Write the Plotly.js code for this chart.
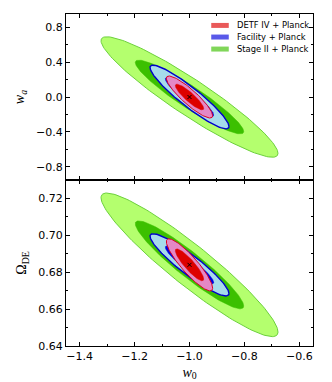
<!DOCTYPE html>
<html>
<head>
<meta charset="utf-8">
<script src="https://cdn.plot.ly/plotly-3.0.1.min.js"></script>
<style>
  html, body { margin: 0; padding: 0; background: #fff; }
  #chart { width: 332px; height: 382px; }
</style>
</head>
<body>
<div id="chart"></div>
<script>
// Fisher forecasts around the fiducial cosmology (1-sigma marginals + correlations)
const experiments = ['Stage II + Planck', 'Facility + Planck', 'DETF IV + Planck'];
const fiducialW0 = -1.0;
const fiducialWa = 0.0;
const fiducialOde = 0.684;
const sigmaW0 = [0.130, 0.058, 0.034];
const sigmaWa = [0.278, 0.147, 0.097];
const sigmaOde = [0.0157, 0.0068, 0.0057];
const rhoW0Wa = [-0.935, -0.925, -0.89];
const rhoW0Ode = [-0.935, -0.92, -0.89];
// sqrt(delta chi^2) for 68% and 95% with two parameters
const levels = [1.52, 2.48];

const outerFill = ['#b4ff6e', '#a6dbeb', '#e488c6'];
const innerFill = ['#3cc000', '#0000dd', '#dd0000'];
const edgeColor = ['#6cd03c', '#0000cc', '#dd0022'];
const legendColor = ['rgba(60,192,0,0.65)', 'rgba(0,0,221,0.65)', 'rgba(221,0,0,0.65)'];

function ellipse(cx, cy, sx, sy, rho, k) {
  const xs = [];
  const ys = [];
  const n = 160;
  const r = Math.sqrt(1 - rho * rho);
  for (let i = 0; i <= n; i++) {
    const t = (2 * Math.PI * i) / n;
    xs.push(cx + k * sx * Math.cos(t));
    ys.push(cy + k * sy * (rho * Math.cos(t) + r * Math.sin(t)));
  }
  return { xs, ys };
}

const traces = [];

function addPanel(cy, sigY, rho, xa, ya) {
  experiments.forEach((name, i) => {
    const outer = ellipse(fiducialW0, cy, sigmaW0[i], sigY[i], rho[i], levels[1]);
    const inner = ellipse(fiducialW0, cy, sigmaW0[i], sigY[i], rho[i], levels[0]);
    traces.push({
      type: 'scatter', mode: 'lines', x: outer.xs, y: outer.ys,
      xaxis: xa, yaxis: ya, fill: 'toself', fillcolor: outerFill[i],
      line: { color: edgeColor[i], width: i === 1 ? 1.4 : 1 },
      hoverinfo: 'skip', showlegend: false
    });
    traces.push({
      type: 'scatter', mode: 'lines', x: inner.xs, y: inner.ys,
      xaxis: xa, yaxis: ya, fill: 'toself', fillcolor: innerFill[i],
      line: { color: innerFill[i], width: 0.5 },
      hoverinfo: 'skip', showlegend: false
    });
  });
  traces.push({
    type: 'scatter', mode: 'markers', x: [fiducialW0], y: [cy],
    xaxis: xa, yaxis: ya,
    marker: { symbol: 'x-thin', size: 4, line: { color: '#000', width: 1 } },
    hoverinfo: 'skip', showlegend: false
  });
}

addPanel(fiducialWa, sigmaWa, rhoW0Wa, 'x2', 'y2');
addPanel(fiducialOde, sigmaOde, rhoW0Ode, 'x', 'y');

const tickFont = { family: 'DejaVu Sans, sans-serif', size: 11, color: '#000' };
const labelFont = { family: 'Liberation Serif, serif', size: 14, color: '#000' };

const frame = {
  showline: true, linecolor: '#000', linewidth: 1, mirror: 'allticks',
  ticks: 'inside', ticklen: 4, tickwidth: 1, tickcolor: '#000',
  showgrid: false, zeroline: false, tickfont: tickFont
};

// hand-made legend, top right of upper panel
const annotations = [];
const shapes = [];
const rowY = [0.9656, 0.9306, 0.8944];
[2, 1, 0].forEach((i, row) => {
  annotations.push({
    xref: 'paper', yref: 'paper', x: 0.683, y: rowY[row],
    xanchor: 'left', yanchor: 'middle', showarrow: false,
    text: experiments[i],
    font: { family: 'DejaVu Sans, sans-serif', size: 8.4, color: '#000' }
  });
  shapes.push({
    type: 'rect', xref: 'paper', yref: 'paper',
    x0: 0.588, x1: 0.659, y0: rowY[row] - 0.0075, y1: rowY[row] + 0.0075,
    fillcolor: legendColor[i], line: { width: 0 }
  });
});

const layout = {
  width: 332,
  height: 382,
  margin: { l: 66, r: 19, t: 14, b: 36 },
  paper_bgcolor: '#fff',
  plot_bgcolor: '#fff',
  showlegend: false,
  xaxis: {
    ...frame, anchor: 'y', range: [-1.45, -0.55], dtick: 0.2, tickformat: '.1f',
    minor: { dtick: 0.1, ticks: 'inside', ticklen: 2, tickcolor: '#000' },
    title: { text: '<i>w</i><sub>0</sub>', font: labelFont, standoff: 4 }
  },
  xaxis2: {
    ...frame, anchor: 'y2', matches: 'x', range: [-1.45, -0.55], dtick: 0.2,
    showticklabels: false,
    minor: { dtick: 0.1, ticks: 'inside', ticklen: 2, tickcolor: '#000' }
  },
  yaxis: {
    ...frame, anchor: 'x', domain: [0, 0.5], range: [0.63999, 0.73], dtick: 0.02,
    tickformat: '.2f',
    minor: { dtick: 0.01, ticks: 'inside', ticklen: 2, tickcolor: '#000' },
    title: { text: 'Ω<sub>DE</sub>', font: labelFont, standoff: 8 }
  },
  yaxis2: {
    ...frame, anchor: 'x2', domain: [0.5, 1], range: [-0.95, 0.95], dtick: 0.4,
    tickformat: '.1f',
    minor: { dtick: 0.2, ticks: 'inside', ticklen: 2, tickcolor: '#000' },
    title: { text: '<i>w<sub>a</sub></i>', font: labelFont, standoff: 8 }
  },
  annotations,
  shapes
};

Plotly.newPlot('chart', traces, layout, { staticPlot: true, displayModeBar: false });
</script>
</body>
</html>
